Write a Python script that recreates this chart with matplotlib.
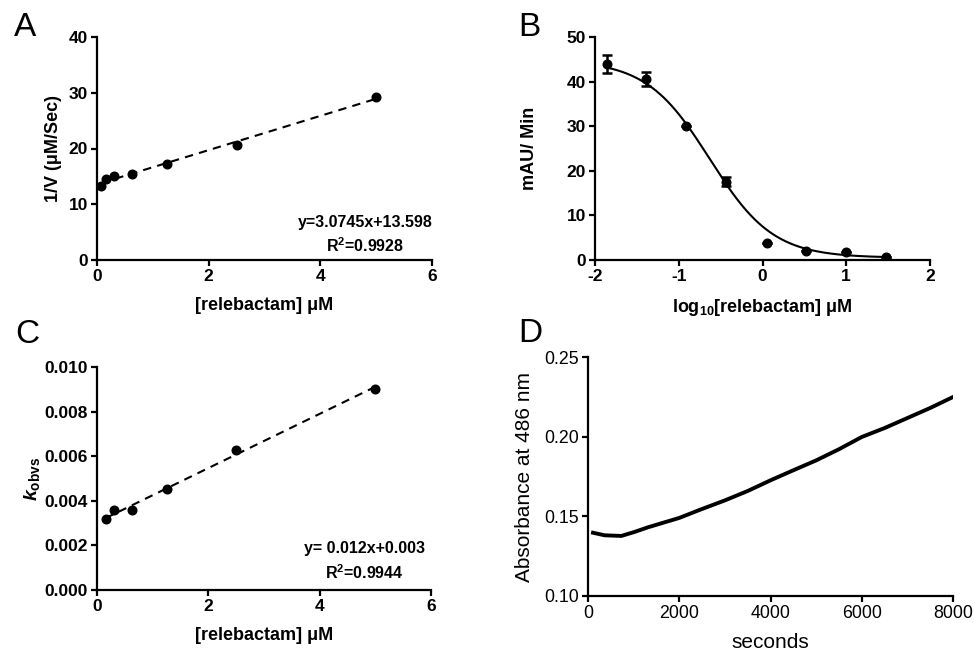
import numpy as np
import matplotlib
matplotlib.use("Agg")
import matplotlib.pyplot as plt
from matplotlib.ticker import FormatStrFormatter

plt.rcParams['font.family'] = ['Liberation Sans', 'DejaVu Sans']
plt.rcParams['mathtext.fontset'] = 'custom'
plt.rcParams['mathtext.rm'] = 'Liberation Sans'
plt.rcParams['mathtext.bf'] = 'Liberation Sans:bold'
plt.rcParams['mathtext.it'] = 'Liberation Sans:italic:bold'
plt.rcParams['axes.unicode_minus'] = False

# ---- Panel A data ----
a_conc = [0.078, 0.156, 0.3125, 0.625, 1.25, 2.5, 5.0]
a_inv_v = [13.3, 14.5, 15.1, 15.5, 17.2, 20.6, 29.25]

# ---- Panel B data ----
b_logconc = [-1.86, -1.39, -0.91, -0.43, 0.05, 0.52, 1.0, 1.48]
b_rate = [43.9, 40.6, 30.0, 17.5, 3.7, 2.0, 1.7, 0.75]
b_err = [2.0, 1.5, 0.0, 1.0, 0.0, 0.0, 0.0, 0.0]
# 4-parameter logistic fit parameters
b_top, b_bottom, b_logic50, b_hill = 44.8, 0.5, -0.63, 1.15

# ---- Panel C data ----
c_conc = [0.156, 0.3125, 0.625, 1.25, 2.5, 5.0]
c_kobs = [0.00318, 0.00358, 0.00357, 0.00452, 0.0063, 0.00903]

# ---- Panel D data ----
d_time = [110, 365, 730, 1020, 1313, 1604, 2000, 2480, 3000, 3500, 4000,
          4500, 5000, 5500, 6000, 6500, 7000, 7500, 8000]
d_abs = [0.1397, 0.1381, 0.1377, 0.1402, 0.1431, 0.1456, 0.1490, 0.1544,
         0.1600, 0.1659, 0.1726, 0.1789, 0.1851, 0.1921, 0.1998, 0.2054,
         0.2117, 0.2180, 0.2249]

W, H = 974, 650
fig = plt.figure(figsize=(W / 100, H / 100), dpi=100)

def px_axes(l, r, b, t):
    return fig.add_axes([l / W, 1 - b / H, (r - l) / W, (b - t) / H])

def style(ax, bold=True, fs=12.5):
    for s in ['top', 'right']:
        ax.spines[s].set_visible(False)
    for s in ['left', 'bottom']:
        ax.spines[s].set_linewidth(1.6)
    ax.tick_params(direction='out', length=4.5, width=1.6, labelsize=fs, pad=2)
    for lab in ax.get_xticklabels() + ax.get_yticklabels():
        lab.set_fontweight('bold' if bold else 'normal')

def place_labels(ax, xl_y, yl_x):
    ax.xaxis.label.set_va('center')
    ax.yaxis.label.set_va('center')
    ax.xaxis.set_label_coords(0.5, xl_y)
    ax.yaxis.set_label_coords(yl_x, 0.5)

lab_fs = 13
ann_fs = 11.5

# Panel A
axA = px_axes(97, 432, 260, 37)
axA.plot(a_conc, a_inv_v, 'o', color='black', ms=6.2, zorder=3)
pa = np.polyfit(a_conc, a_inv_v, 1)
xa = np.array([a_conc[0], a_conc[-1]])
axA.plot(xa, np.polyval(pa, xa), '--', color='black', lw=1.5, dashes=(4, 3))
axA.set_xlim(0, 6)
axA.set_ylim(0, 40)
axA.set_xticks([0, 2, 4, 6])
axA.set_yticks([0, 10, 20, 30, 40])
style(axA)
axA.set_xlabel('[relebactam] μM', fontsize=lab_fs, fontweight='bold')
axA.set_ylabel('1/V (μM/Sec)', fontsize=lab_fs, fontweight='bold')
place_labels(axA, (260 - 305) / 223, (53 - 97) / 335)
axA.text(4.8, 6.8, 'y=3.0745x+13.598', ha='center', va='center', fontsize=ann_fs, fontweight='bold')
axA.text(4.8, 2.5, r'R$^\mathbf{2}$=0.9928', ha='center', va='center', fontsize=ann_fs, fontweight='bold')

# Panel B
axB = px_axes(595, 930, 260, 37)
axB.errorbar(b_logconc, b_rate, yerr=b_err, fmt='o', color='black', ms=6.2,
             capsize=3.5, elinewidth=1.8, capthick=1.8, zorder=3)
xb = np.linspace(b_logconc[0], b_logconc[-1], 300)
yb = b_bottom + (b_top - b_bottom) / (1 + 10 ** ((xb - b_logic50) * b_hill))
axB.plot(xb, yb, '-', color='black', lw=1.5)
axB.set_xlim(-2, 2)
axB.set_ylim(0, 50)
axB.set_xticks([-2, -1, 0, 1, 2])
axB.set_yticks([0, 10, 20, 30, 40, 50])
style(axB)
axB.set_xlabel(r'log$_\mathbf{10}$[relebactam] μM', fontsize=lab_fs, fontweight='bold')
axB.set_ylabel('mAU/ Min', fontsize=lab_fs, fontweight='bold')
place_labels(axB, (260 - 308) / 223, (530 - 595) / 335)

# Panel C
axC = px_axes(97, 431, 590, 367)
axC.plot(c_conc, c_kobs, 'o', color='black', ms=6.2, zorder=3)
pc = np.polyfit(c_conc, c_kobs, 1)
xc = np.array([c_conc[0], c_conc[-1]])
axC.plot(xc, np.polyval(pc, xc), '--', color='black', lw=1.5, dashes=(4, 3))
axC.set_xlim(0, 6)
axC.set_ylim(0, 0.010)
axC.set_xticks([0, 2, 4, 6])
axC.set_yticks([0, 0.002, 0.004, 0.006, 0.008, 0.010])
axC.yaxis.set_major_formatter(FormatStrFormatter('%.3f'))
style(axC)
axC.set_xlabel('[relebactam] μM', fontsize=lab_fs, fontweight='bold')
axC.set_ylabel(r'$k_\mathbf{obvs}$', fontsize=lab_fs + 1)
place_labels(axC, (590 - 635) / 223, (32 - 97) / 334)
axC.text(4.8, 0.00184, 'y= 0.012x+0.003', ha='center', va='center', fontsize=ann_fs, fontweight='bold')
axC.text(4.8, 0.00076, r'R$^\mathbf{2}$=0.9944', ha='center', va='center', fontsize=ann_fs, fontweight='bold')

# Panel D
axD = px_axes(588, 953, 596, 357)
axD.plot(d_time, d_abs, '-', color='black', lw=2.8, solid_joinstyle='round')
axD.set_xlim(0, 8000)
axD.set_ylim(0.10, 0.25)
axD.set_xticks([0, 2000, 4000, 6000, 8000])
axD.set_yticks([0.10, 0.15, 0.20, 0.25])
axD.yaxis.set_major_formatter(FormatStrFormatter('%.2f'))
style(axD, bold=False, fs=12.8)
axD.set_xlabel('seconds', fontsize=15)
axD.set_ylabel('Absorbance at 486 nm', fontsize=15)
place_labels(axD, (596 - 642) / 239, (524 - 588) / 365)

# Panel letters
for letter, x, y in [('A', 25, 27), ('B', 529, 28), ('C', 27, 335), ('D', 530, 333)]:
    fig.text(x / W, 1 - y / H, letter, fontsize=24, ha='center', va='center')

fig.savefig('out.png', dpi=100)
